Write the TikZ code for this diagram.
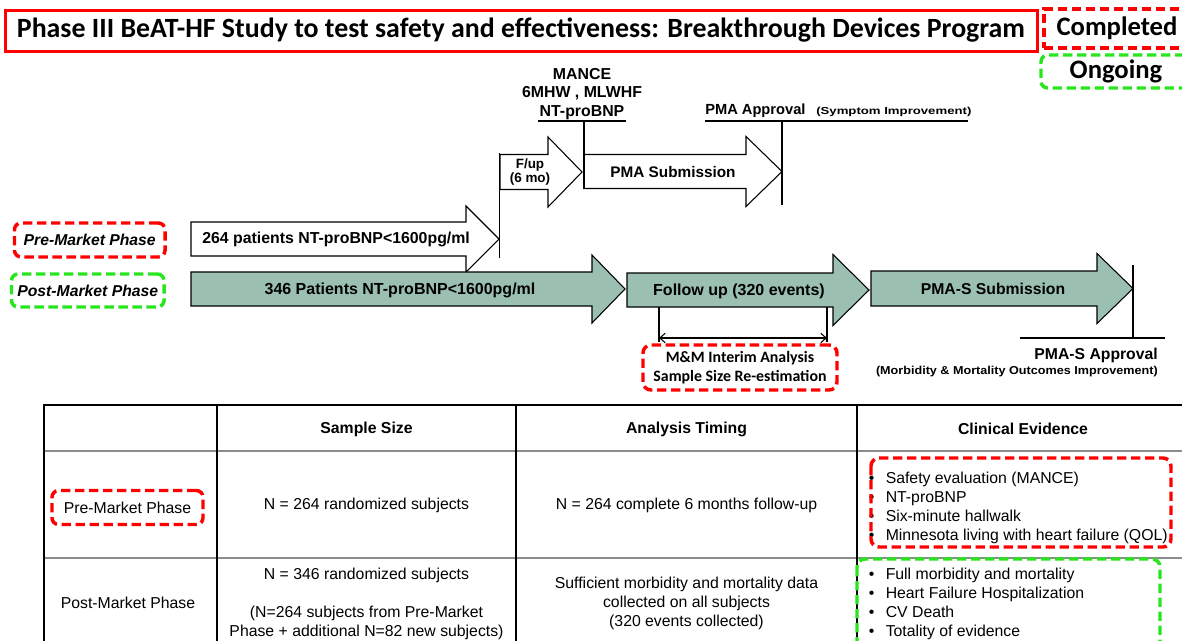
\documentclass[tikz,border=0pt]{standalone}
\usepackage{fontspec}
\setmainfont{Liberation Sans}
\newfontfamily\calibri{Carlito}
\usetikzlibrary{arrows.meta}

\definecolor{markred}{RGB}{255,0,0}
\definecolor{markgreen}{RGB}{40,230,30}
\definecolor{phasefill}{RGB}{155,192,178}
\definecolor{rulegray}{RGB}{140,140,140}

% block arrow: name, style, x tail, x head start, x tip, y centre, half shaft, half head
\newcommand{\blockarrow}[8]{%
  \draw[#2] (#3,#6-#7) -- (#4,#6-#7) -- (#4,#6-#8) -- (#5,#6) -- (#4,#6+#8)
            -- (#4,#6+#7) -- (#3,#6+#7) -- cycle;
  \coordinate (#1-tip) at (#5,#6);
  \coordinate (#1-nw) at (#3,#6-#7);
  \coordinate (#1-sw) at (#3,#6+#7);
}

\tikzset{
  whitearrow/.style={draw=black, fill=white, line width=0.8pt},
  tealarrow/.style={draw=black, fill=phasefill, line width=0.8pt},
  thin rule/.style={draw=black, line width=0.8pt},
  dashbox/.style={line width=2.6pt, dash pattern=on 7pt off 3.5pt, inner sep=0pt},
  lbl/.style={inner sep=0pt, font=\bfseries\fontsize{11.9}{13.9}\selectfont},
  cell/.style={inner sep=0pt, align=center, font=\fontsize{11.85}{14.25}\selectfont},
  hdr/.style={inner sep=0pt, font=\bfseries\fontsize{11.85}{14.25}\selectfont},
}

\begin{document}
\begin{tikzpicture}[x=0.75pt, y=-0.75pt]
\useasboundingbox (0,0) rectangle (1182,640);
\clip (0,0) rectangle (1182,640);

% ---------- heading and legend ----------
\node[draw=markred, line width=2.25pt, inner sep=0pt, minimum width=774pt, minimum height=30.75pt,
      font=\calibri\bfseries\fontsize{20.9}{24}\selectfont] (title) at (521,30.5)
  {Phase III BeAT-HF Study to test safety and effectiveness: Breakthrough Devices Program};
\node[dashbox, draw=markred, minimum width=109.5pt, minimum height=29.25pt,
      font=\calibri\bfseries\fontsize{20}{24}\selectfont] (done) at (1117,28.5) {Completed};
\node[dashbox, draw=markgreen, rounded corners=5pt, minimum width=112.5pt, minimum height=24.75pt,
      font=\calibri\bfseries\fontsize{20}{24}\selectfont] (ongoing) at (1116,71.5) {Ongoing};

% ---------- phase labels ----------
\node[dashbox, draw=markred, rounded corners=5pt, minimum width=112.9pt, minimum height=25.5pt,
      font=\bfseries\itshape\fontsize{11.8}{14}\selectfont] (prelabel) at (89.75,240) {Pre-Market Phase};
\node[dashbox, draw=markgreen, rounded corners=5pt, minimum width=114.4pt, minimum height=24.75pt,
      font=\bfseries\itshape\fontsize{11.8}{14}\selectfont] (postlabel) at (87.75,290.5) {Post-Market Phase};

% ---------- pre-market track ----------
\blockarrow{pre}{whitearrow}{191}{466}{499}{239}{17}{33}
\blockarrow{fup}{whitearrow}{500}{548}{582}{172}{17.5}{35}
\blockarrow{pmasub}{whitearrow}{584}{746}{782}{171.5}{17}{35}

\node[lbl, anchor=west] (pretext) at (202,239) {264 patients NT-proBNP<1600pg/ml};
\node[lbl, align=center, font=\bfseries\fontsize{10.1}{10.6}\selectfont] (fuptext) at (530,172) {F/up\\(6 mo)};
\node[lbl, font=\bfseries\fontsize{11.5}{13}\selectfont] (pmasubtext) at (673,172) {PMA Submission};

\coordinate (split-top) at (499.5,153);
\coordinate (split-bot) at (499.5,258);
\draw[thin rule] (split-top) -- (split-bot);

\node[lbl, align=center] (mance) at (582,94) {MANCE\\6MHW , MLWHF\\NT-proBNP};
\coordinate (mance-l) at (538,121);
\coordinate (mance-r) at (626,121);
\coordinate (mance-foot) at (584,121);
\draw[thin rule] (mance-l) -- (mance-r);
\draw[thin rule] (mance-foot) -- (pmasub-sw);

\node[lbl, anchor=base west, font=\bfseries\fontsize{11}{12}\selectfont] (appr) at (705,114) {PMA Approval};
\node[lbl, anchor=base west] (apprnote) at (816,114)
  {\scalebox{1.3}[1]{\bfseries\fontsize{7.6}{9}\selectfont (Symptom Improvement)}};
\coordinate (appr-l) at (705,121);
\coordinate (appr-r) at (968,121);
\coordinate (appr-foot) at (782,121);
\coordinate (appr-end) at (782,205);
\draw[thin rule] (appr-l) -- (appr-r);
\draw[thin rule] (appr-foot) -- (appr-end);

% ---------- post-market track ----------
\blockarrow{post}{tealarrow}{191}{592}{625}{289}{17}{34}
\blockarrow{follow}{tealarrow}{627}{833}{869}{290}{17}{35.5}
\blockarrow{pmas}{tealarrow}{871}{1097}{1133}{288.5}{17.5}{35}

\node[lbl, font=\bfseries\fontsize{12}{14}\selectfont] (posttext) at (400,290) {346 Patients NT-proBNP<1600pg/ml};
\node[lbl, font=\bfseries\fontsize{12}{14}\selectfont] (followtext) at (739,291) {Follow up (320 events)};
\node[lbl, font=\bfseries\fontsize{11.8}{14}\selectfont] (pmastext) at (993,289) {PMA-S Submission};

% interim window
\coordinate (win-a) at (659,307);
\coordinate (win-b) at (827,307);
\coordinate (win-a2) at (659,342);
\coordinate (win-b2) at (827,342);
\coordinate (win-al) at (659,338);
\coordinate (win-br) at (827,338);
\draw[thin rule] (win-a) -- (win-a2);
\draw[thin rule] (win-b) -- (win-b2);
\draw[thin rule, {Straight Barb[length=4pt,width=7pt]}-{Straight Barb[length=4pt,width=7pt]}] (win-al) -- (win-br);
\node[dashbox, draw=markred, rounded corners=6pt, minimum width=145.5pt, minimum height=33.75pt,
      align=center, font=\calibri\bfseries\fontsize{11.9}{14.25}\selectfont] (interim) at (740,367.5)
  {M\&M Interim Analysis\\Sample Size Re-estimation};

% final approval
\coordinate (pmas-top) at (1133,265);
\coordinate (pmas-foot) at (1133,338);
\coordinate (pmas-l) at (1020,338);
\coordinate (pmas-r) at (1165,338);
\draw[thin rule] (pmas-top) -- (pmas-foot);
\draw[thin rule] (pmas-l) -- (pmas-r);
\node[lbl, anchor=base east, font=\bfseries\fontsize{11.8}{14}\selectfont] (pmasappr) at (1158,359) {PMA-S Approval};
\node[lbl, anchor=base east] (pmasnote) at (1158,374)
  {\scalebox{1.1}[1]{\bfseries\fontsize{8.6}{10}\selectfont (Morbidity \& Mortality Outcomes Improvement)}};

% ---------- summary table ----------
\draw[rulegray, line width=0.8pt] (44,451) -- (1195,451);
\draw[rulegray, line width=0.8pt] (44,558) -- (1195,558);
\foreach \cx in {44,217,516,857} \draw[black, line width=1pt] (\cx,405) -- (\cx,660);
\draw[black, line width=1.9pt] (43,405) -- (1195,405);

\node[hdr] (h-size) at (366.5,429) {Sample Size};
\node[hdr] (h-time) at (686.5,429) {Analysis Timing};
\node[hdr] (h-evid) at (1023,429) {Clinical Evidence};

\node[dashbox, draw=markred, rounded corners=5pt, minimum width=113.25pt, minimum height=25.5pt,
      font=\fontsize{11.85}{14.25}\selectfont] (r1-phase) at (127.5,507.5) {Pre-Market Phase};
\node[cell] (r1-size) at (366.5,505) {N = 264 randomized subjects};
\node[cell] (r1-time) at (686.5,505) {N = 264 complete 6 months follow-up};
\node[inner sep=0pt, anchor=west, font=\fontsize{11.85}{14.25}\selectfont] (r1-evid) at (868.5,508.5)
  {\begin{tabular}{@{}l@{\hspace{8.6pt}}l@{}}
   • & Safety evaluation (MANCE)\\
   • & NT-proBNP\\
   • & Six-minute hallwalk\\
   • & Minnesota living with heart failure (QOL)
   \end{tabular}};
\draw[dashbox, draw=markred, rounded corners=6pt] (871,458) rectangle (1171,547);

\node[cell] (r2-phase) at (128,603) {Post-Market Phase};
\node[cell] (r2-size) at (366.5,603.5)
  {N = 346 randomized subjects\\[14.25pt](N=264 subjects from Pre-Market\\Phase + additional N=82 new subjects)};
\node[cell] (r2-time) at (686.5,603)
  {Sufficient morbidity and mortality data\\collected on all subjects\\(320 events collected)};
\node[inner sep=0pt, anchor=west, font=\fontsize{11.85}{14.25}\selectfont] (r2-evid) at (868.5,604.5)
  {\begin{tabular}{@{}l@{\hspace{8.6pt}}l@{}}
   • & Full morbidity and mortality\\
   • & Heart Failure Hospitalization\\
   • & CV Death\\
   • & Totality of evidence
   \end{tabular}};
\draw[dashbox, draw=markgreen, rounded corners=6pt] (857,559) rectangle (1160,670);
\end{tikzpicture}
\end{document}
